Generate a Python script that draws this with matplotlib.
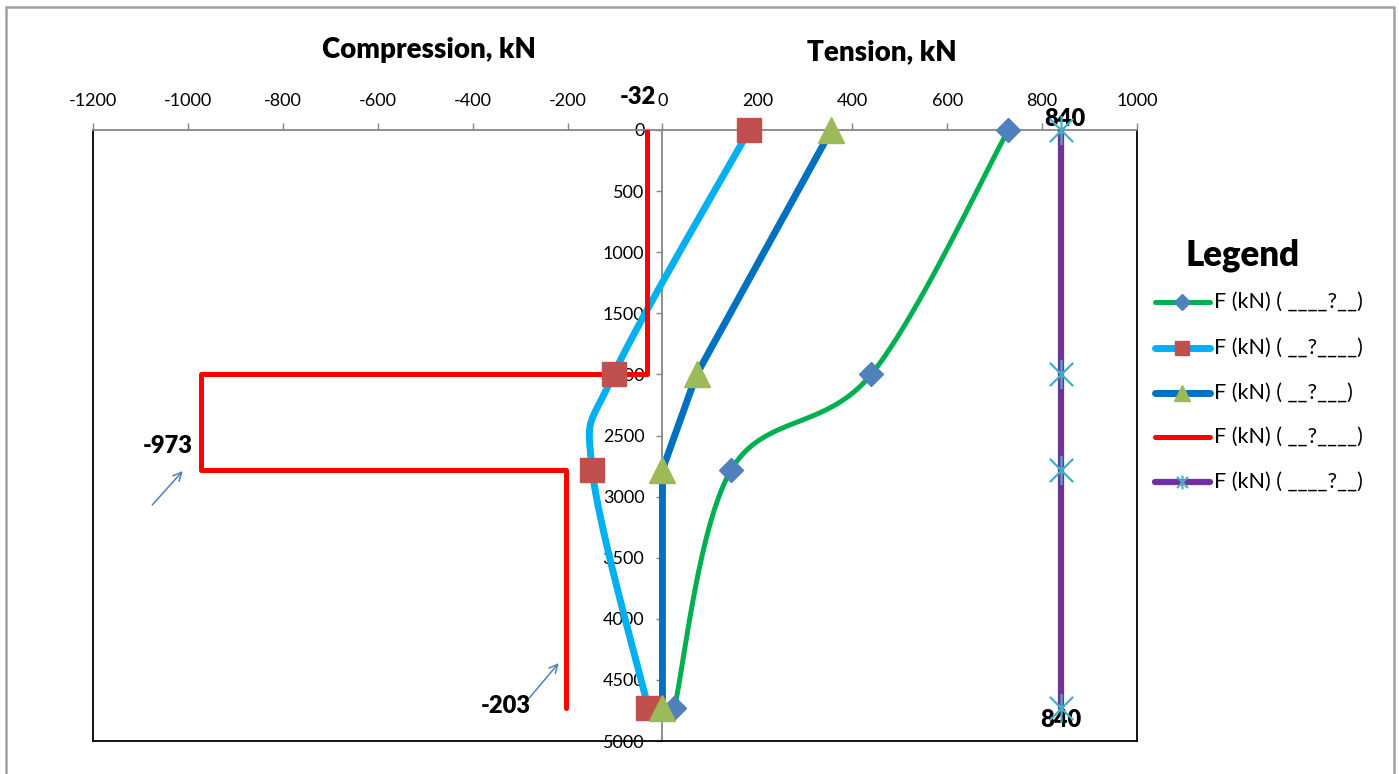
import numpy as np
import matplotlib
matplotlib.use("Agg")
import matplotlib.pyplot as plt
from matplotlib.path import Path
from matplotlib.lines import Line2D
from matplotlib.patches import Rectangle

plt.rcParams['font.family'] = ['Lato', 'DejaVu Sans']

# ---------------- data ----------------
depth = [0, 2000, 2780, 4730]
f_green = [729, 440, 145, 25]          # smooth, diamonds
f_lightblue = [183, -103, -148, -30]   # smooth, squares
f_darkblue = [356, 72, 0, 0]           # straight, triangles
f_purple = [840, 840, 840, 840]        # straight, stars
red_x = [-32, -32, -973, -973, -203, -203]
red_y = [0, 2000, 2000, 2780, 2780, 4730]
legend_labels = ["F (kN) ( ____?__)", "F (kN) ( __?____)", "F (kN) ( __?___)",
                 "F (kN) ( __?____)", "F (kN) ( ____?__)"]
x_ticks = list(range(-1200, 1001, 200))
y_ticks = list(range(0, 5001, 500))

C_GREEN = "#00B050"
C_LBLUE = "#00B0F0"
C_DBLUE = "#0070C0"
C_RED = "#FF0000"
C_PURPLE = "#7030A0"
M_DIAM = "#4F81BD"
M_SQ = "#C0504D"
M_TRI = "#9BBB59"
M_STAR = "#4BACC6"

W, H = 1399, 774
fig = plt.figure(figsize=(W / 100, H / 100), dpi=100)
fig.patch.set_facecolor("white")
# outer border
fig.add_artist(Rectangle((6 / W, -0.01), 1388 / W, 1 - 7 / H + 0.01, transform=fig.transFigure,
                         fill=False, edgecolor="#A0A0A0", lw=1.8))

L, R, T, B = 93, 1137, 130, 741
ax = fig.add_axes([L / W, 1 - B / H, (R - L) / W, (B - T) / H])
ax.set_xlim(-1200, 1000)
ax.set_ylim(5000, 0)

# axes styling
ax.xaxis.tick_top()
ax.set_xticks(x_ticks)
ax.set_xticklabels([str(v) for v in x_ticks])
ax.set_yticks(y_ticks)
ax.set_yticklabels([str(v) for v in y_ticks])
ax.tick_params(axis='x', direction='out', length=5, width=1, color="#868686",
               labelsize=13, pad=10)
ax.tick_params(axis='y', direction='out', length=4, width=1, color="#868686",
               labelsize=13, pad=9)
ax.spines['left'].set_position(('data', 0))
ax.spines['left'].set_color("#868686")
ax.spines['left'].set_linewidth(1.3)
ax.spines['top'].set_color("#868686")
ax.spines['top'].set_linewidth(1.3)
ax.spines['right'].set_color("black")
ax.spines['right'].set_linewidth(1.3)
ax.spines['bottom'].set_color("black")
ax.spines['bottom'].set_linewidth(1.3)
ax.add_line(Line2D([0, 0], [0, 1], transform=ax.transAxes, color="black", lw=1.3,
                   clip_on=False))

# star marker like Excel (x with vertical bar)
star_path = Path([(-1, -1), (1, 1), (-1, 1), (1, -1), (0, -1.25), (0, 1.25)],
                 [Path.MOVETO, Path.LINETO, Path.MOVETO, Path.LINETO, Path.MOVETO, Path.LINETO])


def smooth(xs, ys, n=40):
    """Catmull-Rom style Bezier smoothing computed in display space."""
    pts = ax.transData.transform(np.column_stack([xs, ys]))
    P = np.vstack([pts[0], pts, pts[-1]])
    out = []
    for i in range(1, len(P) - 2):
        p0, p1, p2, p3 = P[i - 1], P[i], P[i + 1], P[i + 2]
        c1 = p1 + (p2 - p0) / 6.0
        c2 = p2 - (p3 - p1) / 6.0
        t = np.linspace(0, 1, n)[:, None]
        seg = ((1 - t) ** 3) * p1 + 3 * ((1 - t) ** 2) * t * c1 + 3 * (1 - t) * t ** 2 * c2 + t ** 3 * p2
        out.append(seg if i == 1 else seg[1:])
    out = np.vstack(out)
    d = ax.transData.inverted().transform(out)
    return d[:, 0], d[:, 1]


# lines
gx, gy = smooth(f_green, depth)
ax.plot(gx, gy, color=C_GREEN, lw=3.6, solid_capstyle='round', zorder=3)
bx, by = smooth(f_lightblue, depth)
ax.plot(bx, by, color=C_LBLUE, lw=5, solid_capstyle='round', zorder=3.1)
ax.plot(f_darkblue, depth, color=C_DBLUE, lw=5, solid_capstyle='round', zorder=3.2)
ax.plot(red_x, red_y, color=C_RED, lw=3.6, solid_capstyle='round',
        solid_joinstyle='round', zorder=3.3)
ax.plot(f_purple, depth, color=C_PURPLE, lw=4.5, solid_capstyle='round', zorder=3.4)

# markers on top
ax.plot(f_green, depth, ls='none', marker='D', ms=12, mfc=M_DIAM, mec=M_DIAM,
        zorder=4.0, clip_on=False)
ax.plot(f_lightblue, depth, ls='none', marker='s', ms=17.5, mfc=M_SQ, mec=M_SQ,
        zorder=4.1, clip_on=False)
ax.plot(f_darkblue, depth, ls='none', marker='^', ms=19, mfc=M_TRI, mec=M_TRI,
        zorder=4.2, clip_on=False)
ax.plot(f_purple, depth, ls='none', marker=star_path, ms=21, mfc='none', mec=M_STAR,
        mew=1.6, zorder=4.3, clip_on=False)

# annotations
bold = dict(fontweight='heavy', fontsize=17, color='black')
ax.text(-52, -180, str(red_x[0]), ha='center', va='bottom', **bold, clip_on=False)
ax.text(f_purple[0] + 8, 0, str(f_purple[0]), ha='center', va='bottom', **bold, clip_on=False)
ax.text(f_purple[-1], 4830, str(f_purple[-1]), ha='center', va='center', **bold)
ax.text(red_x[2] - 70, 2590, str(red_x[2]), ha='center', va='center', **bold)
ax.text(red_x[-1] - 128, 4710, str(red_x[-1]), ha='center', va='center', **bold)
arrow_kw = dict(arrowstyle='->,head_length=0.6,head_width=0.3', color=M_DIAM, lw=1.1)
ax.annotate("", xy=(-1007, 2774), xytext=(-1079, 3085), arrowprops=arrow_kw)
ax.annotate("", xy=(-215, 4345), xytext=(-284, 4664), arrowprops=arrow_kw)

# axis titles
fig.text(429 / W, 1 - 50 / H, "Compression, kN", ha='center', va='center',
         fontsize=20, fontweight='heavy')
fig.text(882 / W, 1 - 52 / H, "Tension, kN", ha='center', va='center',
         fontsize=20, fontweight='heavy')

# legend (manual layout)
fig.text(1243 / W, 1 - 255 / H, "Legend", ha='center', va='center',
         fontsize=25, fontweight='heavy')
handles = [
    (C_GREEN, 3.6, 'D', 8, M_DIAM),
    (C_LBLUE, 5, 's', 10, M_SQ),
    (C_DBLUE, 5, '^', 11, M_TRI),
    (C_RED, 3.6, None, 0, None),
    (C_PURPLE, 4.5, star_path, 10, M_STAR),
]
ys = [302, 348, 393, 437, 482]
for (c, lw, m, ms, mc), yy, lab in zip(handles, ys, legend_labels):
    yf = 1 - yy / H
    fig.add_artist(Line2D([1155 / W, 1210 / W], [yf, yf], color=c, lw=lw,
                          solid_capstyle='round', transform=fig.transFigure))
    if m is not None:
        if m is star_path:
            fig.add_artist(Line2D([1182 / W], [yf], marker=m, ms=ms, mfc='none', mec=mc,
                                  mew=1.5, transform=fig.transFigure))
        else:
            fig.add_artist(Line2D([1182 / W], [yf], marker=m, ms=ms, mfc=mc, mec=mc,
                                  transform=fig.transFigure))
    fig.text(1214 / W, yf, lab, ha='left', va='center', fontsize=15.5)

fig.savefig("out.png", dpi=100)
